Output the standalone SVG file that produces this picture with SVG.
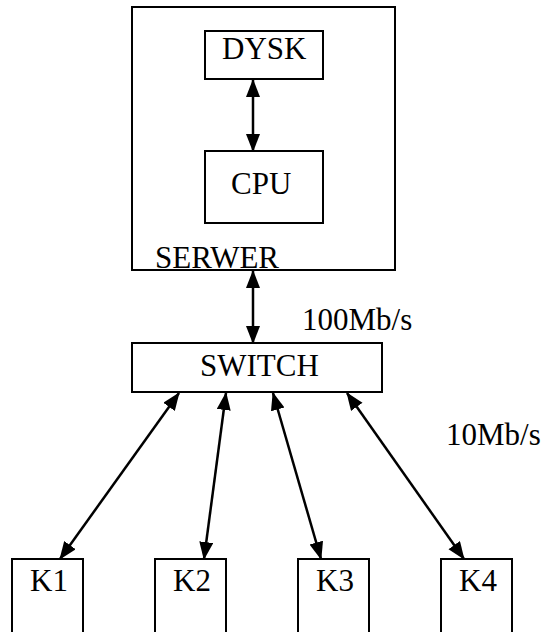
<svg xmlns="http://www.w3.org/2000/svg" width="542" height="632" viewBox="0 0 542 632">
<style>
.box{fill:#fff;stroke:#000;stroke-width:2}
.t{font-family:"Liberation Serif","Times New Roman",serif;font-size:31px;fill:#000}
.c{stroke:#000;stroke-width:2.5;fill:none;marker-start:url(#ah);marker-end:url(#ah)}
</style>
<defs>
<marker id="ah" markerUnits="userSpaceOnUse" markerWidth="19" markerHeight="15" refX="17" refY="7" orient="auto-start-reverse">
<path d="M0,0 L18,7 L0,14 z" fill="#000"/>
</marker>
</defs>
<g id="serwer">
<rect class="box" x="132" y="7" width="263" height="263"/>
<text class="t" x="155" y="268">SERWER</text>
</g>
<g id="dysk">
<rect class="box" x="205" y="31" width="118" height="48"/>
<text class="t" x="222" y="59">DYSK</text>
</g>
<g id="cpu">
<rect class="box" x="205" y="151" width="118" height="72"/>
<text class="t" x="231" y="194">CPU</text>
</g>
<g id="switch">
<rect class="box" x="132" y="343" width="250" height="49"/>
<text class="t" x="200" y="376">SWITCH</text>
</g>
<g id="k1">
<rect class="box" x="12" y="559" width="71" height="80"/>
<text class="t" x="30" y="591">K1</text>
</g>
<g id="k2">
<rect class="box" x="155" y="559" width="71" height="80"/>
<text class="t" x="173" y="591">K2</text>
</g>
<g id="k3">
<rect class="box" x="298" y="559" width="71" height="80"/>
<text class="t" x="316" y="591">K3</text>
</g>
<g id="k4">
<rect class="box" x="441" y="559" width="71" height="80"/>
<text class="t" x="459" y="591">K4</text>
</g>
<g id="labels">
<text class="t" x="302" y="330">100Mb/s</text>
<text class="t" x="446" y="445">10Mb/s</text>
</g>
<g id="connectors">
<line class="c" x1="253" y1="80" x2="253" y2="151"/>
<line class="c" x1="253" y1="271" x2="253" y2="343"/>
<line class="c" x1="179" y1="393" x2="60" y2="559"/>
<line class="c" x1="226" y1="393" x2="204" y2="559"/>
<line class="c" x1="273" y1="393" x2="321" y2="559"/>
<line class="c" x1="347" y1="393" x2="464" y2="559"/>
</g>
</svg>
